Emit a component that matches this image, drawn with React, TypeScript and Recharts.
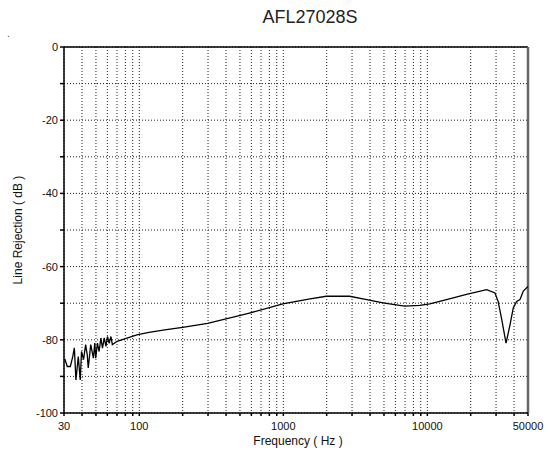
import React from "react";
import { LineChart, Line, XAxis, YAxis, CartesianGrid, ReferenceLine } from "recharts";

const freqs = [
  30, 30.5, 31.6, 33.2, 34.5, 35.4, 36.3, 37.7, 38.9, 39.7, 41.0, 42.4, 43.5, 44.2, 46.0, 48.0, 49.1, 49.8,
  51.2, 52.6, 54.1, 55.5, 57.1, 58.7, 60.1, 61.8, 63.5, 65.0, 70.2, 80, 97.5, 117, 150, 200, 298, 400, 581,
  991, 1500, 1986, 2884, 3800, 4920, 6250, 6970, 8850, 10400, 13600, 18700, 25800, 29500, 31000, 32700,
  35200, 37500, 39500, 41700, 44000, 46400, 50000,
];
const rejection = [
  -85.5, -85.4, -87.3, -87.3, -84.6, -82.2, -91.0, -84.6, -91.0, -83.2, -85.4, -81.3, -84.1, -87.7, -81.3,
  -85.0, -80.9, -85.0, -80.9, -83.2, -79.5, -82.3, -79.5, -81.8, -79.1, -81.0, -79.1, -81.3, -80.4, -79.7,
  -78.6, -78.0, -77.3, -76.6, -75.5, -74.3, -72.7, -70.2, -68.9, -68.1, -68.1, -69.0, -69.9, -70.5, -70.8,
  -70.6, -70.2, -69.0, -67.6, -66.3, -67.2, -69.5, -74.0, -80.9, -75.9, -71.3, -69.5, -69.0, -66.7, -65.4,
];

const xTicks = [
  30, 40, 50, 60, 70, 80, 90, 100, 200, 300, 400, 500, 600, 700, 800, 900, 1000, 2000, 3000, 4000, 5000,
  6000, 7000, 8000, 9000, 10000, 20000, 30000, 40000, 50000,
];
const xLabels = [30, 100, 1000, 10000, 50000];
const yTicks = [0, -10, -20, -30, -40, -50, -60, -70, -80, -90, -100];
const yLabels = [0, -20, -40, -60, -80, -100];

const data = freqs.map((f, i) => ({ f, v: rejection[i] }));

const font = "'Liberation Sans', Arial, sans-serif";

export default function App() {
  return (
    <div style={{ position: "absolute", left: 0, top: 0, width: 550, height: 459, fontFamily: font, background: "#fff" }}>
      <LineChart width={550} height={459} data={data} margin={{ top: 47, right: 22, bottom: 0, left: 0 }}>
        <CartesianGrid stroke="#222" strokeDasharray="1 2" />
        <XAxis
          dataKey="f"
          type="number"
          scale="log"
          domain={[30, 50000]}
          ticks={xTicks}
          interval={0}
          allowDataOverflow
          height={46}
          tickSize={3}
          tickMargin={6}
          stroke="#000"
          strokeWidth={1.5}
          tick={{ fill: "#111", fontSize: 11, fontFamily: font }}
          tickFormatter={(v: number) => (xLabels.includes(v) ? String(v) : "")}
        />
        <YAxis
          type="number"
          domain={[-100, 0]}
          ticks={yTicks}
          interval={0}
          width={64}
          tickSize={4}
          tickMargin={2}
          stroke="#000"
          strokeWidth={1.5}
          tick={{ fill: "#111", fontSize: 11, fontFamily: font }}
          tickFormatter={(v: number) => (yLabels.includes(v) ? String(v) : "")}
        />
        <ReferenceLine y={0} stroke="#000" strokeWidth={1.5} />
        <ReferenceLine x={50000} stroke="#666" strokeWidth={2.5} />
        <Line
          dataKey="v"
          type="linear"
          stroke="#000"
          strokeWidth={1.3}
          dot={false}
          isAnimationActive={false}
        />
      </LineChart>
      <div style={{ position: "absolute", left: 210, width: 200, top: 7, textAlign: "center", fontSize: 18, color: "#222" }}>
        AFL27028S
      </div>
      <div style={{ position: "absolute", left: 198, width: 200, top: 434, textAlign: "center", fontSize: 12, color: "#111" }}>
        Frequency ( Hz )
      </div>
      <div
        style={{
          position: "absolute",
          left: 18 - 100,
          top: 230 - 8,
          width: 200,
          textAlign: "center",
          fontSize: 12,
          color: "#111",
          transform: "rotate(-90deg)",
          transformOrigin: "50% 50%",
          lineHeight: "16px",
        }}
      >
        Line Rejection ( dB )
      </div>
      <div style={{ position: "absolute", left: 7, top: 28, fontSize: 10, color: "#555" }}>.</div>
    </div>
  );
}
